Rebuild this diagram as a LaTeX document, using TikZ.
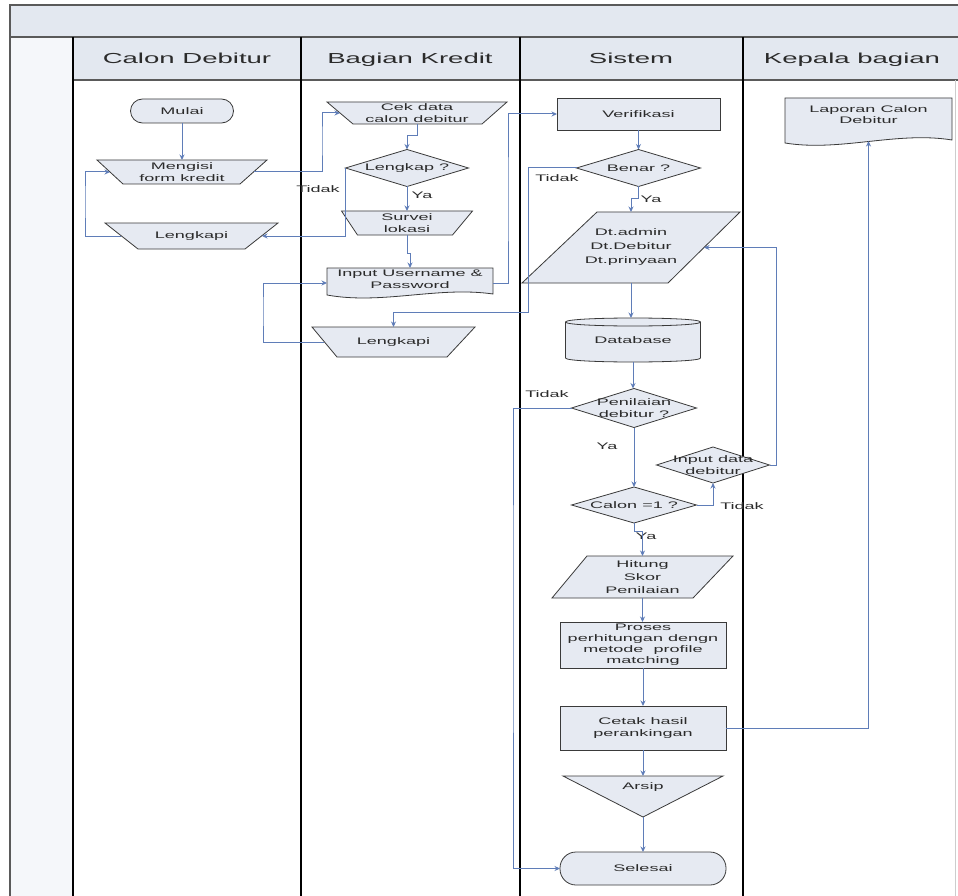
\documentclass[tikz,border=0pt]{standalone}
\usepackage{fontspec}
\setmainfont{Liberation Sans}[FakeStretch=1.9]
\usetikzlibrary{arrows.meta}
\pgfdeclarelayer{lanes}
\pgfdeclarelayer{shapes}
\pgfsetlayers{lanes,shapes,main}
\definecolor{band}{HTML}{E3E8F0}
\definecolor{leftcol}{HTML}{F5F7FA}
\definecolor{nodefill}{HTML}{E6EAF2}
\definecolor{edge}{HTML}{3A3A3A}
\definecolor{conn}{HTML}{5F7DB8}
\definecolor{txt}{HTML}{2B2B2B}
\definecolor{frame}{HTML}{5A5A5A}
\newcommand\nf{\fontsize{9.5}{12}\selectfont}
\newcommand\hf{\fontsize{14.5}{16}\selectfont}
\begin{document}
\begin{tikzpicture}[x=1pt,y=-1pt,
  nd/.style={inner sep=0pt, outer sep=0pt, align=center, text=txt, font=\nf},
  shp/.style={draw=edge, fill=nodefill, line width=0.8pt},
  arr/.style={draw=conn, line width=1pt, -{Stealth[length=5.5pt,width=5pt]}},
  lbl/.style={inner sep=0pt, text=txt, font=\nf},
  lanebar/.style={draw=black, line width=1.8pt},
  framebar/.style={draw=frame, line width=1.2pt},
  hdr/.style={inner sep=0pt, text=txt, font=\hf, anchor=base}]

\useasboundingbox (0,0) rectangle (958,896);

% ---------------- lanes ----------------
\begin{pgfonlayer}{lanes}
\fill[white] (0,0) rectangle (958,896);
\fill[band] (10,5) rectangle (970,37);
\fill[band] (73,37) rectangle (970,80);
\fill[leftcol] (10,37) rectangle (73,900);
\draw[framebar] (970,5) -- (10,5) -- (10,900);
\draw[framebar] (10,37) -- (970,37);
\draw[framebar] (73,80) -- (970,80);
\draw[draw=frame!30, line width=0.8pt] (955,80) -- (955,900);
\draw[lanebar] (73,37) -- (73,900);
\draw[lanebar] (301,37) -- (301,900);
\draw[lanebar] (520,37) -- (520,900);
\draw[lanebar] (743,37) -- (743,900);
\end{pgfonlayer}

\node[hdr] (hcd) at (187,64) {Calon Debitur};
\node[hdr] (hbk) at (410,64) {Bagian Kredit};
\node[hdr] (hsi) at (631,64) {Sistem};
\node[hdr] (hkb) at (852,64) {Kepala bagian};

% ---------------- nodes ----------------
\node[nd, minimum width=103pt, minimum height=24pt] (mulai) at (182,111) {Mulai};
\node[nd, minimum width=170pt, minimum height=24pt] (mengisi) at (182,172) {Mengisi\\form kredit};
\node[nd, minimum width=173pt, minimum height=26pt] (lengkapiA) at (191.5,236) {Lengkapi};

\node[nd, minimum width=180pt, minimum height=22pt] (cek) at (417,113) {Cek data\\calon debitur};
\node[nd, minimum width=123pt, minimum height=37pt] (lengkap) at (407,168) {Lengkap ?};
\node[nd, minimum width=131pt, minimum height=24pt] (survei) at (407,223) {Survei\\lokasi};
\node[nd, minimum width=166pt, minimum height=30pt, text depth=7pt] (input) at (410,283) {Input Username \&\\Password};
\node[nd, minimum width=163pt, minimum height=30pt] (lengkapiB) at (393.5,342) {Lengkapi};

\node[nd, minimum width=163pt, minimum height=32pt] (verif) at (638.5,114) {Verifikasi};
\node[nd, minimum width=124pt, minimum height=37pt] (benar) at (638.5,168) {Benar ?};
\node[nd, minimum width=218pt, minimum height=71pt, font=\fontsize{9.5}{14}\selectfont] (dt) at (631,247.5) {Dt.admin\\Dt.Debitur\\Dt.prinyaan};
\node[nd, minimum width=135pt, minimum height=44pt] (db) at (633,340) {Database};
\node[nd, minimum width=125pt, minimum height=39pt, font=\fontsize{9.5}{11.5}\selectfont] (penil) at (634,408) {Penilaian\\debitur ?};
\node[nd, minimum width=113pt, minimum height=36pt] (inputdata) at (713,465) {Input data\\debitur};
\node[nd, minimum width=125pt, minimum height=36pt] (calon) at (634,505) {Calon =1 ?};
\node[nd, minimum width=181pt, minimum height=42pt, font=\fontsize{9.5}{13}\selectfont] (hitung) at (642.5,577) {Hitung\\Skor\\Penilaian};
\node[nd, minimum width=166pt, minimum height=46pt, font=\fontsize{9.5}{11}\selectfont] (proses) at (643,645) {Proses\\perhitungan dengn\\metode~ profile\\matching};
\node[nd, minimum width=166pt, minimum height=44pt, font=\fontsize{9.5}{11.5}\selectfont] (cetak) at (643,728) {Cetak hasil\\perankingan};
\node[nd, minimum width=160pt, minimum height=41pt, text depth=20pt] (arsip) at (643,796.5) {Arsip};
\node[nd, minimum width=166pt, minimum height=33pt] (selesai) at (643,868.5) {Selesai};

\node[nd, minimum width=167pt, minimum height=47pt, text depth=14pt, font=\fontsize{9.5}{11.5}\selectfont] (laporan) at (868.5,121.5) {Laporan Calon\\Debitur};

% ---------------- shapes ----------------
\begin{pgfonlayer}{shapes}
\path[shp, rounded corners=12pt] (mulai.north west) rectangle (mulai.south east);
\path[shp] (mengisi.north west) -- (mengisi.north east) -- ([xshift=-27pt]mengisi.south east) -- ([xshift=26pt]mengisi.south west) -- cycle;
\path[shp] (lengkapiA.north west) -- (lengkapiA.north east) -- ([xshift=-33pt]lengkapiA.south east) -- ([xshift=33pt]lengkapiA.south west) -- cycle;
\path[shp] (cek.north west) -- (cek.north east) -- ([xshift=-25pt]cek.south east) -- ([xshift=26pt]cek.south west) -- cycle;
\path[shp] (lengkap.north) -- (lengkap.east) -- (lengkap.south) -- (lengkap.west) -- cycle;
\path[shp] (survei.north west) -- (survei.north east) -- ([xshift=-20pt]survei.south east) -- ([xshift=16pt]survei.south west) -- cycle;
\path[shp] (input.north west) -- (input.north east) -- ([yshift=4pt]input.south east)
  .. controls ([xshift=-55pt,yshift=12pt]input.south east) and ([xshift=55pt,yshift=-7pt]input.south west) .. ([yshift=3pt]input.south west) -- cycle;
\path[shp] (lengkapiB.north west) -- (lengkapiB.north east) -- ([xshift=-28pt]lengkapiB.south east) -- ([xshift=25pt]lengkapiB.south west) -- cycle;

\path[shp] (verif.north west) rectangle (verif.south east);
\path[shp] (benar.north) -- (benar.east) -- (benar.south) -- (benar.west) -- cycle;
\path[shp] ([xshift=75pt]dt.north west) -- (dt.north east) -- ([xshift=-72pt]dt.south east) -- (dt.south west) -- cycle;
\path[shp] ([yshift=-4pt]db.north west) -- ([yshift=4pt]db.south west)
  .. controls ([yshift=-1.33pt]db.south west) and ([yshift=-1.33pt]db.south east) .. ([yshift=4pt]db.south east)
  -- ([yshift=-4pt]db.north east)
  .. controls ([yshift=1.33pt]db.north east) and ([yshift=1.33pt]db.north west) .. ([yshift=-4pt]db.north west) -- cycle;
\draw[draw=edge, line width=0.8pt] ([yshift=-4pt]db.north west) .. controls ([yshift=-9.33pt]db.north west) and ([yshift=-9.33pt]db.north east) .. ([yshift=-4pt]db.north east);
\path[shp] (penil.north) -- (penil.east) -- (penil.south) -- (penil.west) -- cycle;
\path[shp] (inputdata.north) -- (inputdata.east) -- (inputdata.south) -- (inputdata.west) -- cycle;
\path[shp] (calon.north) -- (calon.east) -- (calon.south) -- (calon.west) -- cycle;
\path[shp] ([xshift=35pt]hitung.north west) -- (hitung.north east) -- ([xshift=-40pt]hitung.south east) -- (hitung.south west) -- cycle;
\path[shp] (proses.north west) rectangle (proses.south east);
\path[shp] (cetak.north west) rectangle (cetak.south east);
\path[shp] (arsip.north west) -- (arsip.north east) -- (arsip.south) -- cycle;
\path[shp, rounded corners=16pt] (selesai.north west) rectangle (selesai.south east);

\path[shp] (laporan.north west) -- (laporan.north east) -- ([yshift=5pt]laporan.south east)
  .. controls ([xshift=-55pt,yshift=14pt]laporan.south east) and ([xshift=55pt,yshift=-7pt]laporan.south west) .. ([yshift=2pt]laporan.south west) -- cycle;
\end{pgfonlayer}

% ---------------- labels ----------------
\node[lbl] (tA) at (318,189) {Tidak};
\node[lbl] (yA) at (422,195) {Ya};
\node[lbl] (tB) at (557,178) {Tidak};
\node[lbl] (yB) at (651,199) {Ya};
\node[lbl] (tC) at (547,394) {Tidak};
\node[lbl] (yC) at (607,446) {Ya};
\node[lbl] (tD) at (742,506) {Tidak};
\node[lbl] (yD) at (646,536) {Ya};

% ---------------- connectors ----------------
\coordinate (b1) at (322,140);
\coordinate (d1) at (85,200);
\coordinate (h1) at (508,200);
\coordinate (i1) at (528,312);
\coordinate (j1) at (263,310);
\coordinate (o1) at (513,600);
\coordinate (r1) at (776,350);

\draw[arr] (mulai.south) -- (mengisi.north);
\draw[arr] ([xshift=-13pt]mengisi.east) -| (b1) |- ([xshift=13pt]cek.west);
\draw[arr] (cek.south) -- ++(0,12) -| (lengkap.north);
\draw[arr] (lengkap.west) |- ([xshift=-16pt]lengkapiA.east);
\draw[arr] ([xshift=16pt]lengkapiA.west) -| (d1) |- ([xshift=13pt]mengisi.west);
\draw[arr] (lengkap.south) -- (survei.north);
\draw[arr] (survei.south) -- ++(0,18) -| (input.north);
\draw[arr] (input.east) -| (h1) |- (verif.west);
\draw[arr] (lengkapiB.west) ++(12pt,0pt) -| (j1) |- (input.west);
\draw[arr] (verif.south) -- (benar.north);
\draw[arr] (benar.west) -| (i1) -| (lengkapiB.north);
\draw[arr] (benar.south) -- ++(0,12) -| (dt.north);
\draw[arr] (dt.south) -- (dt.south |- db.north);
\draw[arr] (db.south) -- (db.south |- penil.north);
\draw[arr] (penil.west) -| (o1) |- (selesai.west);
\draw[arr] (penil.south) -- (calon.north);
\draw[arr] (calon.east) -| (inputdata.south);
\draw[arr] (inputdata.east) -| (r1) |- ([xshift=-36pt]dt.east);
\draw[arr] (calon.south) -- ++(0,8) -| (hitung.north);
\draw[arr] (hitung.south) -- (hitung.south |- proses.north);
\draw[arr] (proses.south) -- (cetak.north);
\draw[arr] (cetak.south) -- (arsip.north);
\draw[arr] (arsip.south) -- (selesai.north);
\draw[arr] (cetak.east) -| ([yshift=4pt]laporan.south);
\end{tikzpicture}
\end{document}
